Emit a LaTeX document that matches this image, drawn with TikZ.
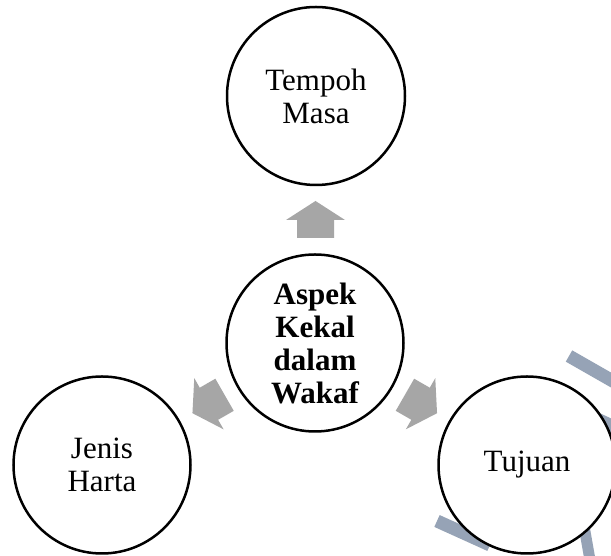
\documentclass[tikz,border=0pt]{standalone}
\usepackage{fontspec}
\setmainfont{Liberation Serif}
\usetikzlibrary{calc}
\definecolor{arrowgray}{RGB}{166,166,166}
\definecolor{wmblue}{RGB}{150,163,182}
\tikzset{
  circ/.style={circle, draw=black, line width=2.5pt, fill=white, minimum size=177pt, inner sep=0pt, align=center, font=\fontsize{31}{33}\selectfont},
  wm/.style={draw=wmblue, line width=13pt},
  blockarrow/.pic={\fill[arrowgray] (-18.5,-18.5) -- (-0.5,-18.5) -- (-0.5,-29.5) -- (18.5,0) -- (-0.5,29.5) -- (-0.5,18.5) -- (-18.5,18.5) -- cycle;}
}
\begin{document}
\begin{tikzpicture}[x=1pt,y=1pt]
\clip (0,0) rectangle (611,556);
\fill[white] (0,0) rectangle (611,556);
% faint watermark strokes
\draw[wm] (569,200) -- (625,168);
\draw[wm] (560,154) -- (625,124);
\draw[wm] (437,35) -- (490,11);
\draw[wm, line width=11pt] (584,30) -- (590,-4);
% circles
\node[circ, minimum size=178pt] (top) at (316,460) {Tempoh\\Masa};
\node[circ, font=\bfseries\fontsize{31}{33}\selectfont] (mid) at (315,213) {Aspek\\Kekal\\dalam\\Wakaf};
\node[circ] (left) at (102,91) {Jenis\\Harta};
\node[circ] (right) at (527,91) {Tujuan};
% block arrows
\pic[rotate=90] at ($(mid)!0.5!(top)$) {blockarrow};
\pic[rotate=209.8] at ($(mid)!0.5!(left)$) {blockarrow};
\pic[rotate=-29.9] at ($(mid)!0.5!(right)$) {blockarrow};
\end{tikzpicture}
\end{document}
